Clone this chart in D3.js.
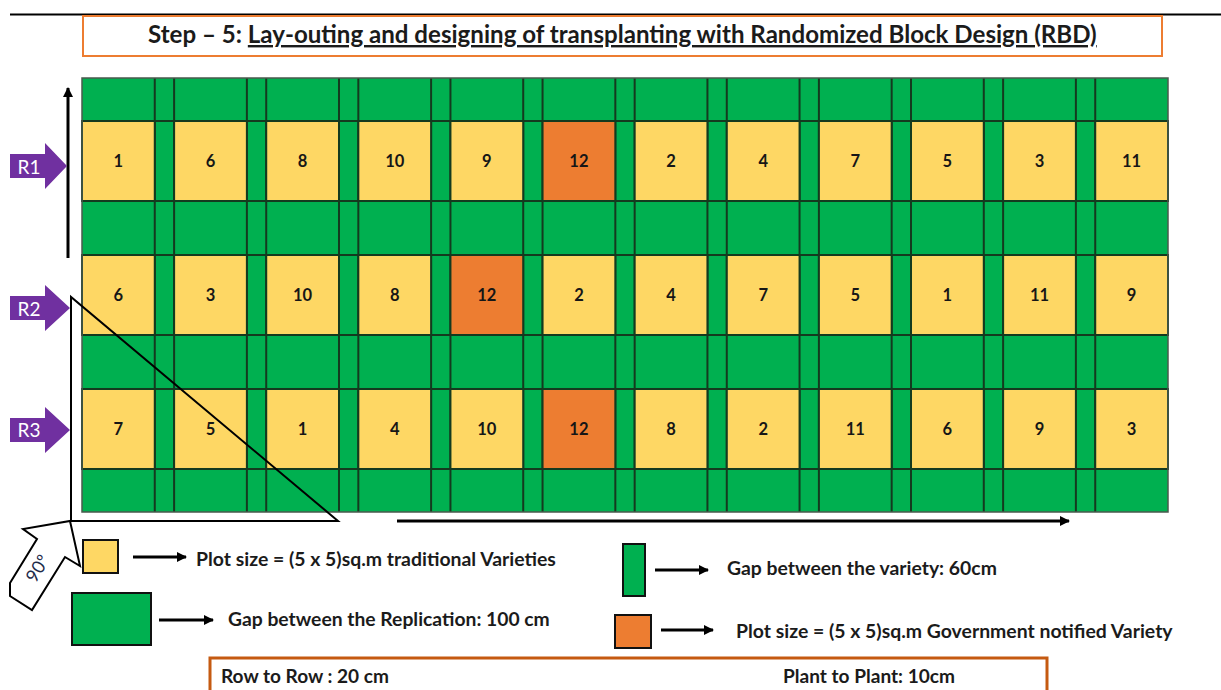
<!DOCTYPE html>
<html>
<head>
<meta charset="utf-8">
<script src="https://cdn.jsdelivr.net/npm/d3@7"></script>
<style>
  html, body { margin: 0; padding: 0; background: #ffffff; }
  svg { display: block; }
  text { font-family: Lato, "Open Sans", "Liberation Sans", sans-serif; }
</style>
</head>
<body>
<svg id="chart" width="1221" height="690"></svg>
<script>
// ---------------- DATA ----------------
const replications = ["R1", "R2", "R3"];
const plotColumns = [1, 2, 3, 4, 5, 6, 7, 8, 9, 10, 11, 12];
const r1Varieties = [1, 6, 8, 10, 9, 12, 2, 4, 7, 5, 3, 11];
const r2Varieties = [6, 3, 10, 8, 12, 2, 4, 7, 5, 1, 11, 9];
const r3Varieties = [7, 5, 1, 4, 10, 12, 8, 2, 11, 6, 9, 3];
const governmentVariety = 12;

const titlePrefix = "Step \u2013 5: ";
const titleMain = "Lay-outing and designing of transplanting with Randomized Block Design (RBD)";
const legendTexts = [
  "Plot size = (5 x 5)sq.m traditional Varieties",
  "Gap between the Replication: 100 cm",
  "Gap between the variety: 60cm",
  "Plot size = (5 x 5)sq.m Government notified Variety"
];
const spacingTexts = ["Row to Row : 20 cm", "Plant to Plant: 10cm"];
const angleLabel = "90\u00BA";

// ---------------- STYLE ----------------
const GREEN = "#00B050", YELLOW = "#FED764", ORANGE = "#ED7D31", PURPLE = "#7030A0";
const LINE = "#143a1f";

const svg = d3.select("#chart");
const defs = svg.append("defs");
defs.append("marker").attr("id", "ah").attr("viewBox", "0 0 10 10")
  .attr("refX", 9).attr("refY", 5).attr("markerWidth", 12).attr("markerHeight", 10)
  .attr("markerUnits", "userSpaceOnUse").attr("orient", "auto")
  .append("path").attr("d", "M0,0 L10,5 L0,10 Z").attr("fill", "#000");

// helper: fit text to a target width
function fit(sel, width, base) {
  sel.attr("font-size", base);
  const w = sel.node().getComputedTextLength();
  sel.attr("font-size", (base * width / w).toFixed(2));
}

// top rule
svg.append("line").attr("x1", 10).attr("x2", 1221).attr("y1", 14.5).attr("y2", 14.5)
  .attr("stroke", "#000").attr("stroke-width", 2);

// title box
svg.append("rect").attr("x", 83).attr("y", 16).attr("width", 1079).attr("height", 40)
  .attr("fill", "#fff").attr("stroke", ORANGE).attr("stroke-width", 2);
const title = svg.append("text").attr("x", 148).attr("y", 43)
  .attr("font-weight", "bold").attr("fill", "#1b1b1b");
title.append("tspan").text(titlePrefix);
title.append("tspan").attr("text-decoration", "underline").text(titleMain);
fit(title, 949, 20);

// ---------------- SCALES ----------------
const x = d3.scaleBand().domain(plotColumns).range([82, 1168]).paddingInner(0.21).paddingOuter(0);
const y = d3.scaleBand().domain(replications).range([78, 512]).paddingInner(0.403).paddingOuter(0.321);
const bw = x.bandwidth(), bh = y.bandwidth();

// grid background (gaps)
const [gx0, gx1] = x.range(), [gy0, gy1] = y.range();
svg.append("rect").attr("x", gx0).attr("y", gy0).attr("width", gx1 - gx0).attr("height", gy1 - gy0)
  .attr("fill", GREEN);

// vertical lines at each plot column edge
const vEdges = [];
plotColumns.forEach(c => { vEdges.push(x(c)); vEdges.push(x(c) + bw); });
svg.append("g").selectAll("line").data(vEdges.filter(v => v > gx0 + 1 && v < gx1 - 1)).join("line")
  .attr("x1", d => d).attr("x2", d => d).attr("y1", gy0).attr("y2", gy1)
  .attr("stroke", LINE).attr("stroke-width", 2);
const hEdges = [];
replications.forEach(r => { hEdges.push(y(r)); hEdges.push(y(r) + bh); });
svg.append("g").selectAll("line").data(hEdges).join("line")
  .attr("x1", gx0).attr("x2", gx1).attr("y1", d => d).attr("y2", d => d)
  .attr("stroke", LINE).attr("stroke-width", 2);

// plots
const table = [r1Varieties, r2Varieties, r3Varieties];
const cells = [];
replications.forEach((r, i) => table[i].forEach((v, j) => cells.push({ rep: r, col: plotColumns[j], v })));
const cg = svg.append("g").selectAll("g").data(cells).join("g");
cg.append("rect").attr("x", d => x(d.col)).attr("y", d => y(d.rep)).attr("width", bw).attr("height", bh)
  .attr("fill", d => d.v === governmentVariety ? ORANGE : YELLOW)
  .attr("stroke", LINE).attr("stroke-width", 2);
cg.append("text").attr("x", d => x(d.col) + bw / 2).attr("y", d => y(d.rep) + bh / 2)
  .attr("text-anchor", "middle").attr("dominant-baseline", "central")
  .attr("font-weight", "bold").attr("font-size", 16.5).attr("fill", "#161616")
  .text(d => d.v);

// outer border
svg.append("rect").attr("x", gx0).attr("y", gy0).attr("width", gx1 - gx0).attr("height", gy1 - gy0)
  .attr("fill", "none").attr("stroke", "#4a5a4e").attr("stroke-width", 1.5);

// ---------------- ANNOTATIONS ----------------
// vertical arrow
svg.append("line").attr("x1", 68).attr("x2", 68).attr("y1", 258).attr("y2", 88)
  .attr("stroke", "#000").attr("stroke-width", 3).attr("marker-end", "url(#ah)");
// horizontal arrow
svg.append("line").attr("x1", 397).attr("x2", 1069).attr("y1", 521).attr("y2", 521)
  .attr("stroke", "#000").attr("stroke-width", 3).attr("marker-end", "url(#ah)");

// replication arrows
const repOffsets = [5, 13, 1];
const tips = [67, 70, 70];
replications.forEach((r, i) => {
  const yc = y(r) + bh / 2 + repOffsets[i];
  const t = tips[i];
  const pts = [[10, yc - 12], [45, yc - 12], [45, yc - 23], [t, yc], [45, yc + 23], [45, yc + 12], [10, yc + 12]];
  svg.append("polygon").attr("points", pts.map(p => p.join(",")).join(" ")).attr("fill", PURPLE);
  svg.append("text").attr("x", 29).attr("y", yc).attr("text-anchor", "middle")
    .attr("dominant-baseline", "central").attr("font-size", 19).attr("fill", "#fff").text(r);
});

// triangle
svg.append("polygon").attr("points", "71,297 71,521 338,521")
  .attr("fill", "none").attr("stroke", "#000").attr("stroke-width", 2);

// 90 degree block arrow
svg.append("polygon")
  .attr("points", "70,521 80,566 65,557 32,610 10,596 10,583 37,539 23,529")
  .attr("fill", "#fff").attr("stroke", "#000").attr("stroke-width", 2).attr("stroke-linejoin", "miter");
svg.append("text").attr("transform", "translate(37,568) rotate(-58)")
  .attr("text-anchor", "middle").attr("dominant-baseline", "central")
  .attr("font-size", 18).attr("fill", "#1e2b4a").text(angleLabel);

// ---------------- LEGEND ----------------
function legArrow(x1, x2, yy) {
  svg.append("line").attr("x1", x1).attr("x2", x2).attr("y1", yy).attr("y2", yy)
    .attr("stroke", "#000").attr("stroke-width", 3).attr("marker-end", "url(#ah)");
}
// yellow square
svg.append("rect").attr("x", 83).attr("y", 540).attr("width", 35).attr("height", 33)
  .attr("fill", YELLOW).attr("stroke", "#111").attr("stroke-width", 2);
legArrow(133, 186, 557);
fit(svg.append("text").attr("x", 196).attr("y", 558).attr("dominant-baseline", "central")
  .attr("font-weight", "bold").attr("fill", "#1b1b1b").text(legendTexts[0]), 360, 15);

// green rect (replication gap)
svg.append("rect").attr("x", 72).attr("y", 593).attr("width", 79).attr("height", 52)
  .attr("fill", GREEN).attr("stroke", "#111").attr("stroke-width", 2);
legArrow(159, 213, 620);
fit(svg.append("text").attr("x", 228).attr("y", 618).attr("dominant-baseline", "central")
  .attr("font-weight", "bold").attr("fill", "#1b1b1b").text(legendTexts[1]), 322, 15);

// green vertical (variety gap)
svg.append("rect").attr("x", 623).attr("y", 544).attr("width", 22).attr("height", 52)
  .attr("fill", GREEN).attr("stroke", "#111").attr("stroke-width", 2);
legArrow(655, 708, 570);
fit(svg.append("text").attr("x", 727).attr("y", 567).attr("dominant-baseline", "central")
  .attr("font-weight", "bold").attr("fill", "#1b1b1b").text(legendTexts[2]), 270, 15);

// orange square
svg.append("rect").attr("x", 615).attr("y", 615).attr("width", 36).attr("height", 33)
  .attr("fill", ORANGE).attr("stroke", "#111").attr("stroke-width", 2);
legArrow(661, 713, 630);
fit(svg.append("text").attr("x", 736).attr("y", 630).attr("dominant-baseline", "central")
  .attr("font-weight", "bold").attr("fill", "#1b1b1b").text(legendTexts[3]), 437, 15);

// spacing box
svg.append("rect").attr("x", 210).attr("y", 658).attr("width", 837).attr("height", 60)
  .attr("fill", "#fff").attr("stroke", "#C55A11").attr("stroke-width", 3);
fit(svg.append("text").attr("x", 221).attr("y", 683)
  .attr("font-weight", "bold").attr("fill", "#1b1b1b").text(spacingTexts[0]), 168, 16);
fit(svg.append("text").attr("x", 783).attr("y", 683)
  .attr("font-weight", "bold").attr("fill", "#1b1b1b").text(spacingTexts[1]), 172, 16);
</script>
</body>
</html>
